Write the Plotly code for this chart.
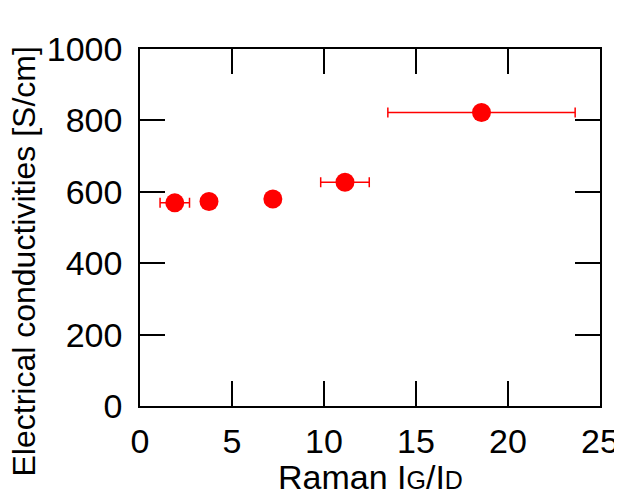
import plotly.graph_objects as go

raman_ratio = [1.89, 3.75, 7.22, 11.14, 18.56]
ratio_err = [0.80, 0.0, 0.0, 1.32, 5.09]
conductivity = [569, 573, 580, 627, 822]

x_ticks = [0, 5, 10, 15, 20, 25]
y_ticks = [0, 200, 400, 600, 800, 1000]

fig = go.Figure()
fig.add_trace(go.Scatter(
    x=raman_ratio, y=conductivity, mode="markers",
    marker=dict(color="#ff0000", size=19, line=dict(width=0)),
    error_x=dict(type="data", array=ratio_err, visible=True,
                 color="#ff0000", thickness=1.5, width=5),
    showlegend=False,
))

font_family = "Liberation Sans, Arial, sans-serif"
axis_common = dict(
    showgrid=False, zeroline=False, showline=True, linecolor="#000000",
    linewidth=1.5, mirror="ticks", ticks="inside", ticklen=25, tickwidth=1.5,
    tickcolor="#000000", tickfont=dict(family=font_family, size=34, color="#000000"),
    automargin=False, ticklabeloverflow="allow",
)

# page body has an 8px default margin, so the figure is sized/offset to compensate
fig.update_layout(
    width=614, height=483,
    margin=dict(l=132, r=21.5, t=41, b=85),
    paper_bgcolor="white", plot_bgcolor="white",
    font=dict(family=font_family, color="#000000"),
    xaxis=dict(range=[0, 25], tickvals=x_ticks,
               ticklabelstandoff=4, **axis_common),
    yaxis=dict(range=[0, 1000], tickvals=y_ticks,
               ticklabelstandoff=9, **axis_common),
    annotations=[
        dict(
            text="Electrical conductivities [S/cm]", textangle=-90,
            xref="paper", yref="paper", x=0, y=0.5, xanchor="center", yanchor="middle",
            xshift=-117, yshift=-34, showarrow=False,
            font=dict(family=font_family, size=32, color="#000000"),
        ),
        dict(
            text='Raman I<span style="font-size:25px">G</span>/I<span style="font-size:25px">D</span>',
            xref="paper", yref="paper", x=0.5, y=0, xanchor="center", yanchor="top",
            yshift=-50, showarrow=False,
            font=dict(family=font_family, size=34, color="#000000"),
        ),
    ],
)

fig.write_html("out.html")
